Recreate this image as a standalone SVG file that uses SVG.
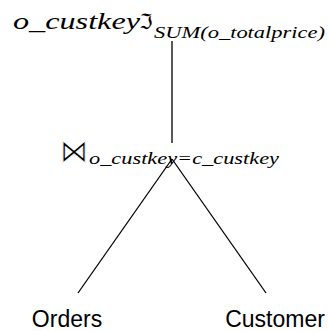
<svg xmlns="http://www.w3.org/2000/svg" width="329" height="331" viewBox="0 0 329 331">
<style>
.m{font-family:"Liberation Serif","DejaVu Serif",serif;font-style:italic;fill:#000}
.s{font-family:"DejaVu Sans","DejaVu Serif",sans-serif;fill:#000}
.b{font-family:"DejaVu Sans",sans-serif;fill:#000;stroke:#fff;stroke-width:0.9}
.r{font-family:"Liberation Sans",Arial,sans-serif;font-size:23px;fill:#000;text-anchor:middle}
.e{stroke:#000;stroke-width:1.3;fill:none}
</style>
<rect width="329" height="331" fill="#fff"/>
<g id="edges">
<line class="e" x1="172" y1="41" x2="172" y2="143"/>
<line class="e" x1="172" y1="159" x2="78" y2="293"/>
<line class="e" x1="172" y1="159" x2="266" y2="293"/>
</g>
<g id="aggregate">
<text class="m" x="13" y="28.5" font-size="22.5" textLength="127" lengthAdjust="spacingAndGlyphs">o_custkey</text>
<text class="s" x="139.5" y="28.5" font-size="21" textLength="13" lengthAdjust="spacingAndGlyphs">ℑ</text>
<text class="m" x="154" y="37.5" font-size="16.5" textLength="171" lengthAdjust="spacingAndGlyphs">SUM(o_totalprice)</text>
</g>
<g id="join">
<text class="b" x="60" y="162" font-size="32" textLength="28" lengthAdjust="spacingAndGlyphs">⋈</text>
<text class="m" x="89" y="163.5" font-size="16.5" textLength="190" lengthAdjust="spacingAndGlyphs">o_custkey=c_custkey</text>
</g>
<g id="orders"><text class="r" x="67" y="327">Orders</text></g>
<g id="customer"><text class="r" x="275" y="327">Customer</text></g>
</svg>
